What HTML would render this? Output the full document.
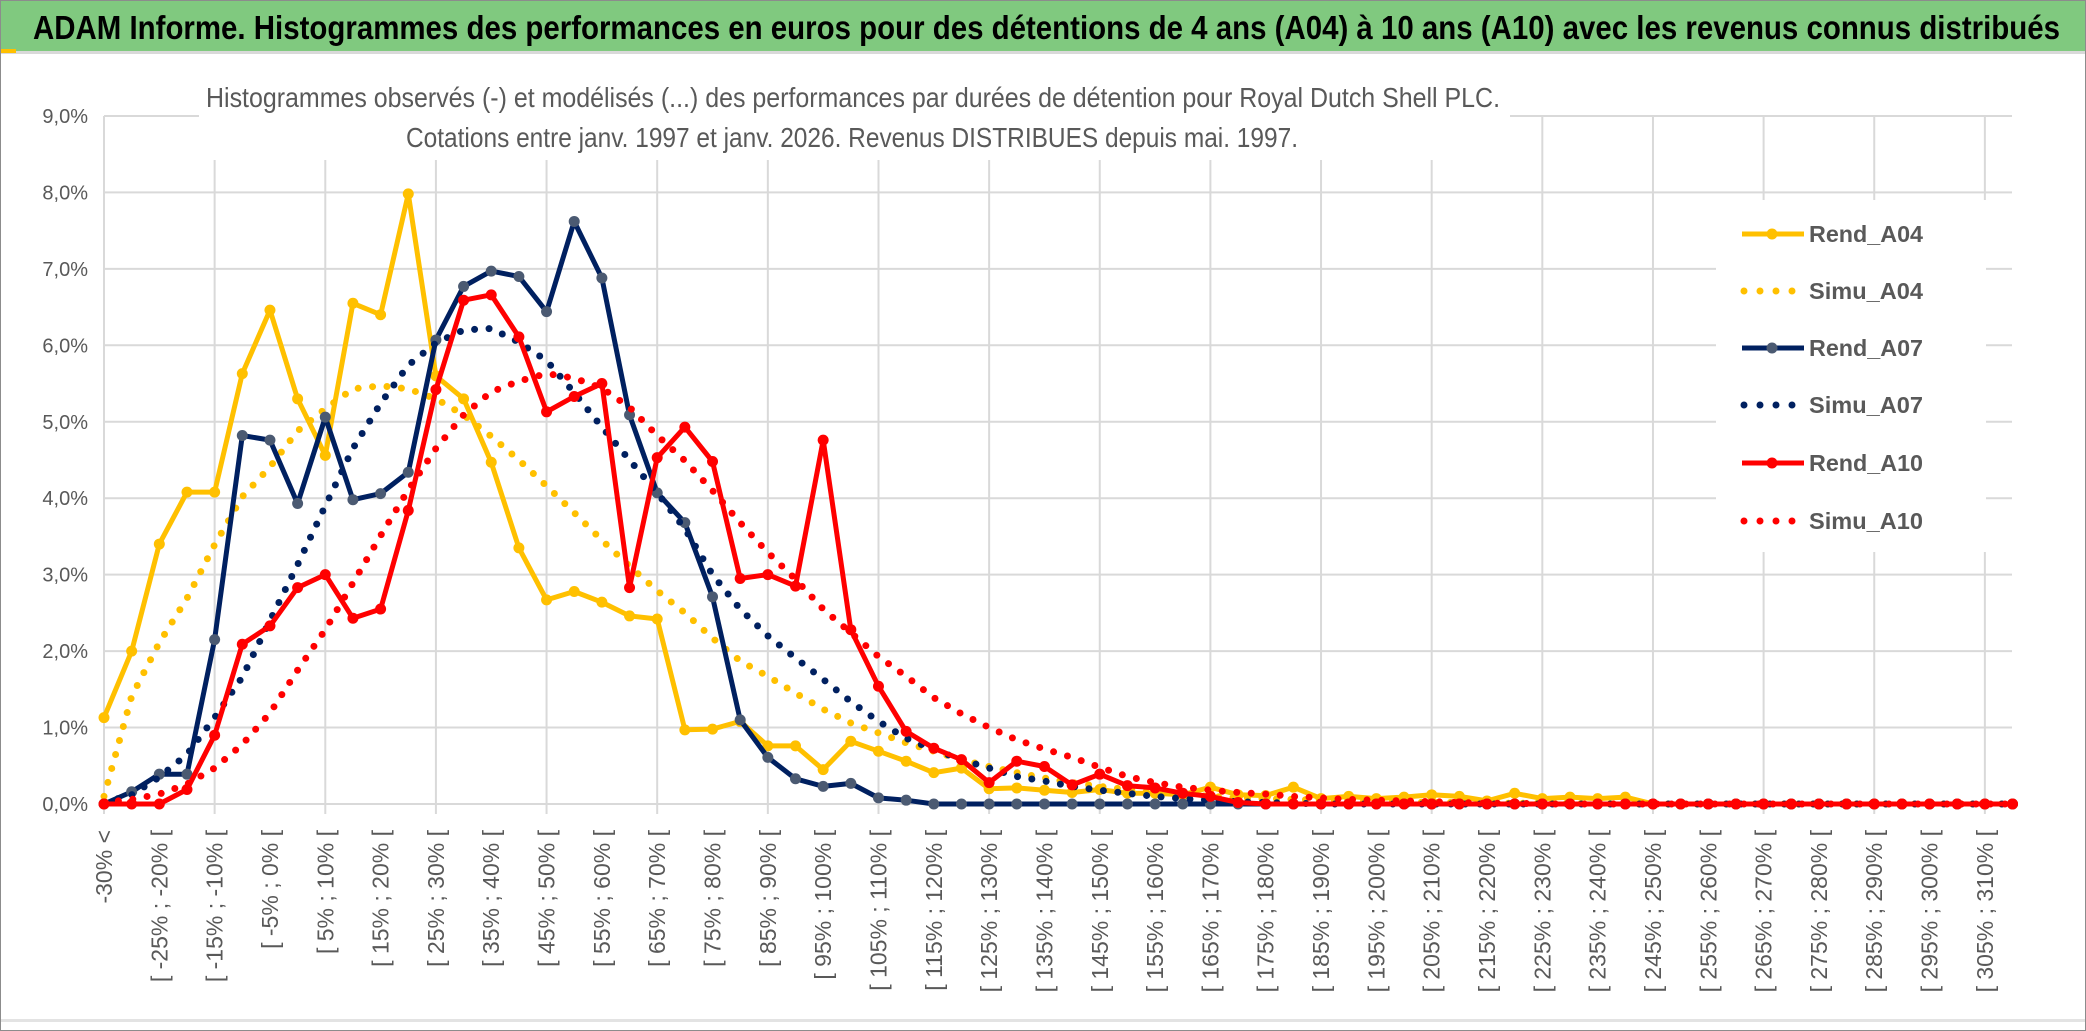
<!DOCTYPE html>
<html><head><meta charset="utf-8">
<style>
html,body{margin:0;padding:0;background:#fff;}
svg{display:block;}
text{font-family:"Liberation Sans",sans-serif;}
</style></head>
<body>
<svg id="chart" width="2086" height="1031" viewBox="0 0 2086 1031" xmlns="http://www.w3.org/2000/svg">
  <rect x="0.5" y="0.5" width="2085" height="1030" fill="#fff" stroke="#8c8c8c"/>
  <rect x="1" y="1" width="2084" height="50" fill="#80c97f"/>
  <rect x="1" y="51" width="2084" height="3" fill="#d9d9d9"/>
  <rect x="1" y="49" width="15" height="4" fill="#ffc000"/>
  <text x="33" y="39" font-size="33" font-weight="bold" fill="#000" textLength="2027" lengthAdjust="spacingAndGlyphs">ADAM Informe. Histogrammes des performances en euros pour des détentions de 4 ans (A04) à 10 ans (A10) avec les revenus connus distribués</text>
  <rect x="1" y="1019" width="2084" height="3" fill="#e3e3e3"/>
  <g id="grid"></g>
  <rect x="199" y="60" width="1311" height="100" fill="#fff"/>
  <text x="206" y="107" font-size="28" fill="#595959" textLength="1294" lengthAdjust="spacingAndGlyphs">Histogrammes observés (-) et modélisés (...) des performances par durées de détention pour Royal Dutch Shell PLC.</text>
  <text x="406" y="147" font-size="28" fill="#595959" textLength="892" lengthAdjust="spacingAndGlyphs">Cotations entre janv. 1997 et janv. 2026. Revenus DISTRIBUES depuis mai. 1997.</text>
  <g id="yaxis"></g>
  <g id="xaxis"></g>
  <g id="series"></g>
  <g id="legend"></g>
</svg>
<script>
const NS = "http://www.w3.org/2000/svg";
const seriesNames = ["Rend_A04","Simu_A04","Rend_A07","Simu_A07","Rend_A10","Simu_A10"];
const yTicks = [0,1,2,3,4,5,6,7,8,9];
const rendA04 = [
1.13,2.00,3.40,4.08,4.08,5.63,6.46,5.30,4.56,6.55,
6.40,7.98,5.60,5.30,4.47,3.35,2.67,2.78,2.64,2.46,
2.42,0.97,0.98,1.08,0.76,0.76,0.45,0.82,0.69,0.56,
0.41,0.47,0.20,0.21,0.18,0.15,0.19,0.14,0.14,0.12,
0.22,0.12,0.11,0.22,0.07,0.10,0.07,0.09,0.12,0.10,
0.04,0.14,0.07,0.09,0.07,0.09,0,0,0,0,
0,0,0,0,0,0,0,0,0,0];
const simuA04 = [
0.10,1.41,2.11,2.69,3.39,4.02,4.41,4.88,5.17,5.43,
5.47,5.43,5.30,5.09,4.81,4.50,4.16,3.81,3.45,3.11,
2.79,2.50,2.17,1.87,1.67,1.45,1.24,1.06,0.93,0.80,
0.69,0.58,0.49,0.41,0.34,0.28,0.23,0.19,0.15,0.12,
0.10,0.08,0.07,0.06,0.05,0.04,0.03,0.03,0.02,0.02,
0.01,0.01,0.01,0.01,0,0,0,0,0,0,
0,0,0,0,0,0,0,0,0,0];
const rendA07 = [
0,0.16,0.39,0.39,2.15,4.82,4.76,3.93,5.06,3.98,
4.06,4.34,6.07,6.77,6.97,6.90,6.44,7.62,6.88,5.09,
4.07,3.68,2.71,1.10,0.61,0.33,0.23,0.27,0.08,0.05,
0,0,0,0,0,0,0,0,0,0,
0,0,0,0,0,0,0,0,0,0,
0,0,0,0,0,0,0,0,0,0,
0,0,0,0,0,0,0,0,0,0];
const simuA07 = [
0.02,0.12,0.35,0.65,1.13,1.66,2.40,3.13,3.90,4.65,
5.24,5.74,6.03,6.20,6.22,6.04,5.80,5.38,4.93,4.50,
4.07,3.60,3.00,2.55,2.20,1.91,1.63,1.34,1.08,0.86,
0.71,0.58,0.47,0.36,0.30,0.23,0.18,0.14,0.10,0.07,
0.05,0.03,0.02,0.01,0,0,0,0,0,0,
0,0,0,0,0,0,0,0,0,0,
0,0,0,0,0,0,0,0,0,0];
const rendA10 = [
0,0,0,0.19,0.90,2.09,2.33,2.83,3.00,2.43,
2.55,3.84,5.42,6.59,6.66,6.11,5.13,5.33,5.50,2.83,
4.53,4.93,4.48,2.95,3.00,2.85,4.76,2.28,1.54,0.95,
0.73,0.58,0.28,0.56,0.49,0.25,0.39,0.24,0.21,0.14,
0.10,0.02,0,0,0,0,0,0,0,0,
0,0,0,0,0,0,0,0,0,0,
0,0,0,0,0,0,0,0,0,0];
const simuA10 = [
0.02,0.06,0.13,0.26,0.47,0.78,1.19,1.75,2.28,2.89,
3.51,4.11,4.65,5.09,5.39,5.53,5.63,5.57,5.44,5.19,
4.82,4.49,4.10,3.68,3.29,2.94,2.55,2.24,1.93,1.67,
1.39,1.18,1.00,0.84,0.72,0.61,0.48,0.36,0.28,0.22,
0.18,0.15,0.13,0.10,0.08,0.06,0.05,0.04,0.03,0.02,
0.01,0.01,0,0,0,0,0,0,0,0,
0,0,0,0,0,0,0,0,0,0];

// categories: "-30% <" then 5% bins
const categories = ["-30% <"];
for (let s = -30; s < 315; s += 5) categories.push("[ " + s + "% ; " + (s + 5) + "% [");

const X0 = 104, STEP = 27.66, Y0 = 804, YPER = 76.45, XEND = 2012;
const xPos = i => X0 + i * STEP;
const yPos = v => Y0 - v * YPER;

function mk(tag, attrs, parent) {
  const e = document.createElementNS(NS, tag);
  for (const k in attrs) e.setAttribute(k, attrs[k]);
  parent.appendChild(e);
  return e;
}

const grid = document.getElementById("grid");
yTicks.forEach(t => {
  const l = mk("line", {x1: X0, x2: XEND, y1: yPos(t), y2: yPos(t), stroke: "#d9d9d9", "stroke-width": 2}, grid);
  
  
});
for (let i = 0; i < categories.length; i += 4) {
  const l = mk("line", {x1: xPos(i), x2: xPos(i), y1: yPos(9), y2: Y0 + 10, stroke: "#d9d9d9", "stroke-width": 2}, grid);
  
  
}

const yaxis = document.getElementById("yaxis");
yTicks.forEach(t => {
  const tx = mk("text", {x: 88, y: yPos(t) + 7, "text-anchor": "end", "font-size": 20, fill: "#595959"}, yaxis);
  tx.textContent = t.toFixed(1).replace(".", ",") + "%";
  
  
});

const xaxis = document.getElementById("xaxis");
categories.forEach((c, i) => {
  if (i % 2) return;
  const x = xPos(i) + 8;
  const tx = mk("text", {x: x, y: 830, "text-anchor": "end", "font-size": 23, fill: "#595959", transform: "rotate(-90 " + x + " 830)"}, xaxis);
  tx.textContent = c;
  
  
});

const sg = document.getElementById("series");
const styles = [
  {data: rendA04, color: "#ffc000", marker: "#ffc000", dotted: false},
  {data: simuA04, color: "#ffc000", dotted: true},
  {data: rendA07, color: "#002060", marker: "#4b5a72", dotted: false},
  {data: simuA07, color: "#002060", dotted: true},
  {data: rendA10, color: "#ff0000", marker: "#ff0000", dotted: false},
  {data: simuA10, color: "#ff0000", dotted: true}
];
styles.forEach((s, si) => {
  const g = mk("g", {}, sg);
  
  
  const pts = s.data.map((v, i) => xPos(i).toFixed(1) + "," + yPos(v).toFixed(1)).join(" ");
  const attrs = {points: pts, fill: "none", stroke: s.color, "stroke-linejoin": "round"};
  if (s.dotted) { attrs["stroke-width"] = 7; attrs["stroke-dasharray"] = "0 14.5"; attrs["stroke-linecap"] = "round"; }
  else { attrs["stroke-width"] = 5; }
  const pl = mk("polyline", attrs, g);
  
  
  if (!s.dotted) {
    s.data.forEach((v, i) => {
      const c = mk("circle", {cx: xPos(i), cy: yPos(v), r: 5.5, fill: s.marker}, g);
      
      
    });
  }
});

const lg = document.getElementById("legend");
const lbox = mk("rect", {x: 1716, y: 200, width: 270, height: 352, fill: "#fff"}, lg);


const legendY = [234, 291, 348, 405, 463, 521];
styles.forEach((s, si) => {
  const y = legendY[si];
  const g = mk("g", {}, lg);
  
  
  if (s.dotted) {
    const l = mk("line", {x1: 1744, x2: 1802, y1: y, y2: y, stroke: s.color, "stroke-width": 7, "stroke-linecap": "round", "stroke-dasharray": "0 16"}, g);
    
    
  } else {
    const l = mk("line", {x1: 1742, x2: 1804, y1: y, y2: y, stroke: s.color, "stroke-width": 5}, g);
    
    
    const c = mk("circle", {cx: 1772, cy: y, r: 5.5, fill: s.marker}, g);
    
    
  }
  const t = mk("text", {x: 1809, y: y + 8, "font-size": 23, "font-weight": "bold", fill: "#595959", textLength: 114, lengthAdjust: "spacingAndGlyphs"}, g);
  t.textContent = seriesNames[si];
  
  
});
</script>
</body></html>
